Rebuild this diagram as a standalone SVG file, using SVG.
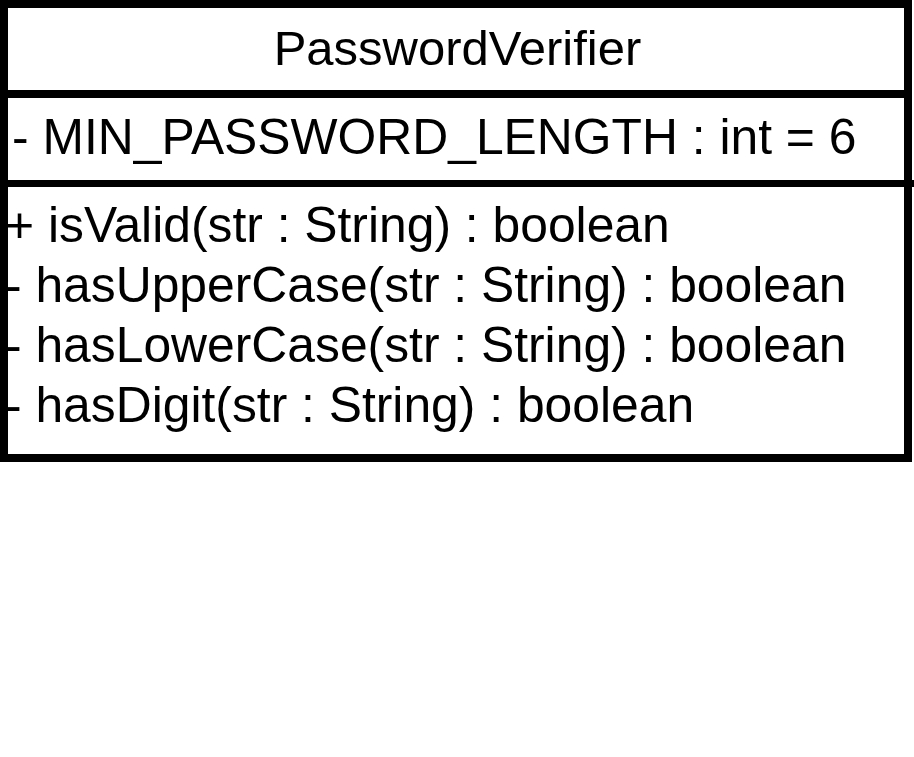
<svg xmlns="http://www.w3.org/2000/svg" width="914" height="757" viewBox="0 0 914 757">
  <style>
    .frame { fill: #ffffff; stroke: #000000; stroke-width: 8; }
    .rule { stroke: #000000; stroke-width: 8; fill: none; }
    .label { font-family: "Liberation Sans", Arial, Helvetica, sans-serif; font-size: 49.8px; fill: #000000; }
    .title { font-size: 49px; text-anchor: middle; }
  </style>
  <rect x="0" y="0" width="914" height="757" fill="#ffffff"/>
  <g id="PasswordVerifier">
    <rect class="frame" x="4" y="4" width="904" height="454"/>
    <line class="rule" x1="0" y1="94" x2="912" y2="94"/>
    <line class="rule" x1="0" y1="183.5" x2="914" y2="183.5" style="stroke-width:7"/>
    <text class="label title" x="457.5" y="65">PasswordVerifier</text>
    <text class="label" x="12" y="154">- MIN_PASSWORD_LENGTH : int = 6</text>
    <text class="label" x="5" y="242">+ isValid(str : String) : boolean</text>
    <text class="label" x="5" y="302">- hasUpperCase(str : String) : boolean</text>
    <text class="label" x="5" y="362">- hasLowerCase(str : String) : boolean</text>
    <text class="label" x="5" y="422">- hasDigit(str : String) : boolean</text>
  </g>
  <g id="connectors"/>
</svg>
